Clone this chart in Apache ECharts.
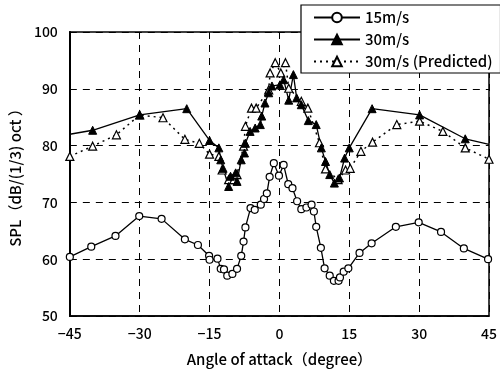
<!DOCTYPE html>
<html>
<head>
<meta charset="utf-8">
<script src="https://cdn.jsdelivr.net/npm/echarts@6/dist/echarts.min.js"></script>
<style>
  html, body { margin: 0; padding: 0; background: #fff; }
  #chart { width: 500px; height: 373px; }
</style>
</head>
<body>
<div id="chart"></div>
<script>
var xTicks = [-45, -30, -15, 0, 15, 30, 45]
var yTicks = [50, 60, 70, 80, 90, 100]

// 15 m/s, measured
var low = [
  [-45, 60.4], [-40.4, 62.2], [-35.2, 64.1], [-30.1, 67.6], [-25.3, 67.1], [-20.3, 63.5],
  [-17.5, 62.5], [-15.1, 60.6], [-15, 59.9], [-13.3, 60.1], [-12.6, 58.3], [-11.9, 58.2],
  [-11.2, 57.1], [-10.1, 57.4], [-9.1, 58.3], [-8.2, 60.6], [-7.7, 63.1], [-7.3, 65.6],
  [-6.2, 69.0], [-5.3, 68.7], [-4.0, 69.6], [-3.3, 70.6], [-2.7, 71.6], [-2.1, 74.5],
  [-1.2, 76.9], [-0.1, 74.7], [0.9, 76.6], [1.9, 73.2], [2.8, 72.5], [3.8, 70.2],
  [4.7, 68.8], [5.8, 69.1], [6.9, 69.6], [7.4, 68.4], [7.9, 65.7], [8.9, 62.0],
  [9.7, 58.4], [10.8, 57.1], [11.7, 56.2], [12.7, 56.2], [13.0, 56.8], [13.8, 57.8],
  [14.8, 58.4], [17.2, 61.1], [19.8, 62.8], [25.0, 65.7], [29.9, 66.5], [34.7, 64.8],
  [39.6, 61.9], [44.8, 60.0]
]

// 30 m/s, measured (first and last are line ends without a marker)
var high = [
  [-45, 82.0], [-40.1, 82.7], [-30, 85.4], [-19.9, 86.5], [-15, 80.9], [-13, 79.6],
  [-12.6, 77.5], [-12.1, 76.0], [-10.9, 72.8], [-10.5, 74.6], [-9.4, 75.2], [-9.1, 73.7],
  [-8.2, 77.5], [-7.5, 78.7], [-7.3, 80.4], [-6.3, 82.5], [-5.2, 83.1], [-4.1, 83.7],
  [-3.8, 85.2], [-3.1, 87.5], [-2.3, 89.3], [-1.6, 90.5], [0.1, 90.7], [0.9, 91.6],
  [2.0, 88.0], [3.0, 92.5], [3.7, 88.4], [4.7, 87.2], [6.2, 84.4], [7.9, 83.7],
  [9.0, 79.6], [9.9, 77.2], [10.8, 74.9], [11.8, 73.4], [12.9, 74.3], [14.0, 77.8],
  [15.0, 79.6], [19.9, 86.5], [30.1, 85.4], [39.9, 81.2], [45, 80.2]
]

// 30 m/s, predicted
var pred = [
  [-45, 78.1], [-40.1, 79.9], [-35, 81.9], [-30, 85.4], [-25, 84.9], [-20.3, 81.1],
  [-17.2, 80.4], [-15, 78.5], [-13, 78.1], [-12.3, 75.7], [-10.9, 74.0], [-9.8, 74.0],
  [-9.1, 74.9], [-7.7, 79.9], [-7.3, 83.4], [-6.0, 86.6], [-5.0, 86.6], [-2.3, 89.8],
  [-2.0, 92.8], [-0.9, 94.6], [0.3, 92.8], [1.3, 94.6], [2.0, 90.1], [4.7, 87.8],
  [6.1, 86.6], [8.6, 80.5], [9.9, 75.9], [12.6, 74.0], [14.2, 75.7], [15.2, 76.0],
  [17.5, 79.0], [20, 80.6], [25.2, 83.7], [30.1, 84.3], [35.1, 82.5], [39.9, 79.6],
  [45, 77.6]
]

var font = 'Noto Sans CJK JP'

var highData = high.map(function (p, i) {
  if (i === 0 || i === high.length - 1) return { value: p, symbol: 'none' }
  return p
})

var chart = echarts.init(document.getElementById('chart'))

var dashed = { show: true, lineStyle: { color: '#000', width: 1, type: [7, 6] } }
var txt = { fontFamily: font, fontSize: 14, color: '#000', fontWeight: 500 }

chart.setOption({
  animation: false,
  backgroundColor: '#fff',
  grid: {
    left: 66, right: 11, top: 32, bottom: 57,
    show: true, borderColor: '#000', borderWidth: 1.5
  },
  legend: {
    orient: 'vertical',
    left: 301, top: 5,
    padding: [5, 8, 4, 12],
    itemGap: 7,
    itemWidth: 46, itemHeight: 12,
    backgroundColor: '#fff',
    borderColor: '#000', borderWidth: 1.2,
    textStyle: { fontFamily: font, fontSize: 15, color: '#000', fontWeight: 500 },
    data: ['15m/s', '30m/s', '30m/s (Predicted)']
  },
  xAxis: {
    type: 'value', min: -45, max: 45, interval: 15,
    name: 'Angle of attack\uFF08degree\uFF09',
    nameLocation: 'middle', nameGap: 36,
    nameTextStyle: { fontFamily: font, fontSize: 15, color: '#000', fontWeight: 500 },
    axisLine: { onZero: false, lineStyle: { color: '#000', width: 1.5 } },
    axisTick: { show: false },
    axisLabel: Object.assign({}, txt, {
      margin: 11,
      formatter: function (v) { return xTicks.indexOf(v) >= 0 ? String(v).replace('-', '\u2212') : '' }
    }),
    splitLine: dashed
  },
  yAxis: {
    type: 'value', min: 50, max: 100, interval: 10,
    name: 'SPL\uFF08dB/(1/3) oct \uFF09',
    nameLocation: 'middle', nameGap: 44,
    nameTextStyle: { fontFamily: font, fontSize: 15, color: '#000', fontWeight: 500 },
    axisLine: { show: true, onZero: false, lineStyle: { color: '#000', width: 2 } },
    axisTick: { show: false },
    axisLabel: Object.assign({}, txt, {
      margin: 12,
      formatter: function (v) { return yTicks.indexOf(v) >= 0 ? String(v) : '' }
    }),
    splitLine: dashed
  },
  series: [
    {
      name: '15m/s', type: 'line', data: low,
      symbol: 'circle', symbolSize: 7,
      lineStyle: { color: '#000', width: 1.3 },
      itemStyle: { color: '#fff', borderColor: '#000', borderWidth: 1.2 }
    },
    {
      name: '30m/s (Predicted)', type: 'line', data: pred,
      symbol: 'triangle', symbolSize: 8,
      lineStyle: { color: '#000', width: 1.5, type: [2, 4] },
      itemStyle: { color: '#fff', borderColor: '#000', borderWidth: 1.2 }
    },
    {
      name: '30m/s', type: 'line', data: highData,
      symbol: 'triangle', symbolSize: 8,
      lineStyle: { color: '#000', width: 1.3 },
      itemStyle: { color: '#000', borderColor: '#000', borderWidth: 1 }
    }
  ]
})
</script>
</body>
</html>
